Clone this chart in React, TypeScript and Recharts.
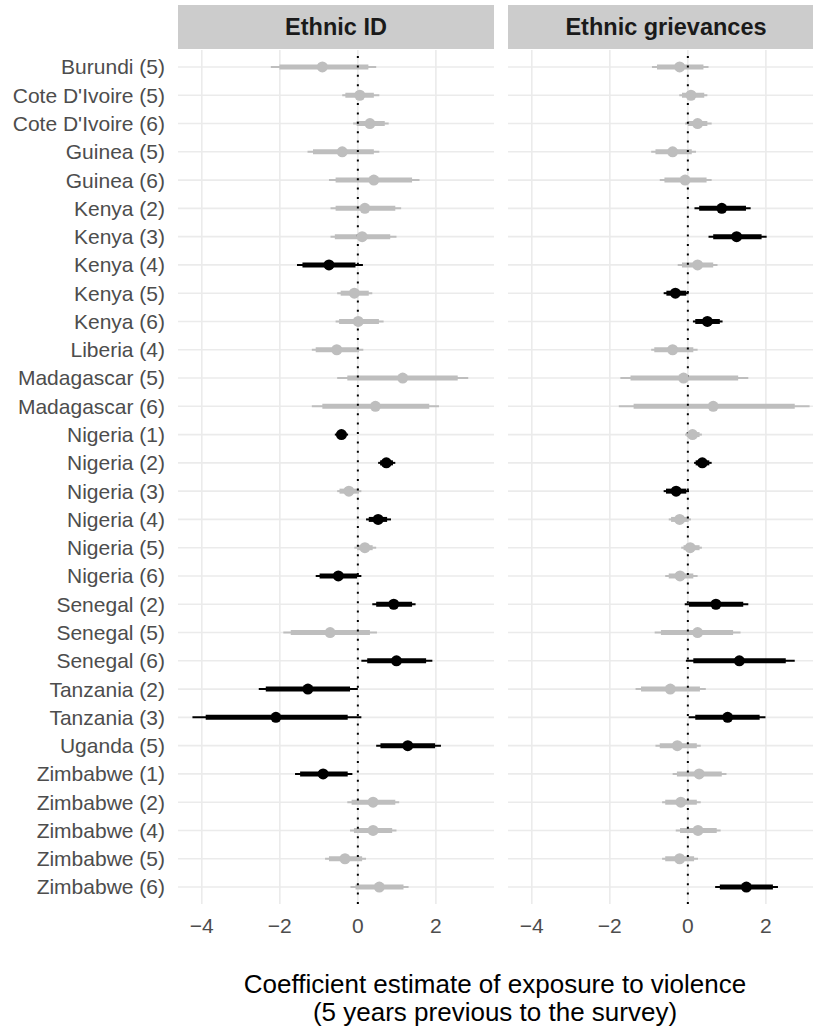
import React from 'react';
import {
  ScatterChart,
  Scatter,
  XAxis,
  YAxis,
  CartesianGrid,
  ErrorBar,
  ReferenceLine,
} from 'recharts';

const FONT = '"Liberation Sans", Arial, Helvetica, sans-serif';
const GREY = '#BEBEBE';
const BLACK = '#000000';

const surveys = [
  'Burundi (5)', "Cote D'Ivoire (5)", "Cote D'Ivoire (6)", 'Guinea (5)', 'Guinea (6)',
  'Kenya (2)', 'Kenya (3)', 'Kenya (4)', 'Kenya (5)', 'Kenya (6)',
  'Liberia (4)', 'Madagascar (5)', 'Madagascar (6)',
  'Nigeria (1)', 'Nigeria (2)', 'Nigeria (3)', 'Nigeria (4)', 'Nigeria (5)', 'Nigeria (6)',
  'Senegal (2)', 'Senegal (5)', 'Senegal (6)', 'Tanzania (2)', 'Tanzania (3)', 'Uganda (5)',
  'Zimbabwe (1)', 'Zimbabwe (2)', 'Zimbabwe (4)', 'Zimbabwe (5)', 'Zimbabwe (6)',
];

const xTicks = [-4, -2, 0, 2];
const rowTicks = surveys.map((_, i) => i + 1);

// Ethnic ID
const idEst = [-0.91, 0.05, 0.31, -0.4, 0.41, 0.18, 0.11, -0.74, -0.09, 0.01, -0.54, 1.15, 0.45, -0.42, 0.73, -0.23, 0.52, 0.18, -0.5, 0.92, -0.71, 0.99, -1.28, -2.1, 1.28, -0.89, 0.39, 0.39, -0.33, 0.55];
const idLo95 = [-2.23, -0.4, -0.12, -1.29, -0.74, -0.7, -0.7, -1.56, -0.53, -0.57, -1.18, -0.53, -1.18, -0.59, 0.52, -0.53, 0.21, -0.09, -1.08, 0.37, -1.91, 0.09, -2.54, -4.24, 0.47, -1.61, -0.27, -0.2, -0.84, -0.19];
const idHi95 = [0.47, 0.55, 0.79, 0.55, 1.58, 1.11, 0.99, 0.13, 0.37, 0.66, 0.14, 2.83, 2.08, -0.25, 0.96, 0.09, 0.85, 0.47, 0.09, 1.48, 0.49, 1.91, 0.0, 0.09, 2.13, -0.14, 1.06, 0.99, 0.21, 1.3];
const idLo90 = [-2.01, -0.32, -0.03, -1.15, -0.57, -0.57, -0.59, -1.42, -0.44, -0.48, -1.08, -0.27, -0.91, -0.54, 0.57, -0.47, 0.28, -0.02, -0.98, 0.47, -1.72, 0.24, -2.36, -3.9, 0.58, -1.48, -0.16, -0.1, -0.74, -0.06];
const idHi90 = [0.27, 0.41, 0.69, 0.41, 1.39, 0.96, 0.83, -0.06, 0.28, 0.54, 0.03, 2.56, 1.83, -0.3, 0.9, 0.03, 0.75, 0.38, -0.02, 1.39, 0.31, 1.75, -0.2, -0.26, 1.98, -0.26, 0.96, 0.88, 0.11, 1.17];
const idSig = [0, 0, 0, 0, 0, 0, 0, 1, 0, 0, 0, 0, 0, 1, 1, 0, 1, 0, 1, 1, 0, 1, 1, 1, 1, 1, 0, 0, 0, 0];

// Ethnic grievances
const grEst = [-0.21, 0.08, 0.25, -0.39, -0.07, 0.87, 1.25, 0.25, -0.32, 0.5, -0.39, -0.11, 0.65, 0.12, 0.37, -0.3, -0.21, 0.06, -0.2, 0.72, 0.25, 1.32, -0.45, 1.02, -0.27, 0.29, -0.18, 0.26, -0.21, 1.5];
const grLo95 = [-0.92, -0.22, -0.07, -0.94, -0.72, 0.17, 0.53, -0.26, -0.62, 0.13, -0.94, -1.73, -1.77, -0.07, 0.16, -0.62, -0.49, -0.17, -0.58, -0.08, -0.85, -0.05, -1.34, 0.02, -0.83, -0.39, -0.66, -0.31, -0.66, 0.7];
const grHi95 = [0.53, 0.5, 0.61, 0.21, 0.61, 1.61, 2.02, 0.76, 0.02, 0.89, 0.25, 1.55, 3.12, 0.36, 0.61, 0.03, 0.08, 0.36, 0.25, 1.55, 1.35, 2.74, 0.46, 1.99, 0.33, 0.99, 0.33, 0.84, 0.26, 2.31];
const grLo90 = [-0.79, -0.15, 0.0, -0.83, -0.6, 0.29, 0.65, -0.15, -0.55, 0.19, -0.86, -1.47, -1.39, -0.03, 0.2, -0.56, -0.43, -0.11, -0.49, 0.03, -0.69, 0.14, -1.2, 0.19, -0.72, -0.28, -0.58, -0.2, -0.58, 0.82];
const grHi90 = [0.4, 0.42, 0.5, 0.1, 0.48, 1.49, 1.89, 0.65, -0.04, 0.82, 0.14, 1.29, 2.74, 0.3, 0.55, -0.04, 0.02, 0.3, 0.14, 1.42, 1.16, 2.51, 0.31, 1.84, 0.23, 0.87, 0.23, 0.74, 0.16, 2.18];
const grSig = [0, 0, 0, 0, 0, 1, 1, 0, 1, 1, 0, 0, 0, 0, 1, 1, 0, 0, 0, 1, 0, 1, 0, 1, 0, 0, 0, 0, 0, 1];

type Series = {
  est: number[];
  lo95: number[];
  hi95: number[];
  lo90: number[];
  hi90: number[];
  sig: number[];
};

// error bars take offsets from the estimate, [below, above]
const toPoints = (s: Series, significant: boolean) =>
  s.est
    .map((e, i) => ({
      row: i + 1,
      est: e,
      e95: [e - s.lo95[i], s.hi95[i] - e],
      e90: [e - s.lo90[i], s.hi90[i] - e],
      sig: s.sig[i] === 1,
    }))
    .filter((p) => p.sig === significant);

const dot = (fill: string) => (props: any) =>
  <circle cx={props.cx} cy={props.cy} r={5.5} fill={fill} />;

// grid only at the major ticks, placed through the axis scales
const vGrid = ({ xAxis, offset }: any) =>
  xAxis && typeof xAxis.scale === 'function'
    ? xTicks.map((t) => xAxis.scale(t))
    : xTicks.map((t) => offset.left + ((t + 4.61) / 8.1) * offset.width);
const hGrid = ({ yAxis, offset }: any) =>
  yAxis && typeof yAxis.scale === 'function'
    ? rowTicks.map((t) => yAxis.scale(t))
    : rowTicks.map((t) => offset.top + ((t - 0.4) / 30.2) * offset.height);

const tickStyle = { fill: '#4D4D4D', fontSize: 21, fontFamily: FONT };

interface PanelProps {
  title: string;
  series: Series;
  left: number;
  showLabels: boolean;
}

const Panel: React.FC<PanelProps> = ({ title, series, left, showLabels }) => {
  const axisW = showLabels ? 178 : 0;
  const grey = toPoints(series, false);
  const black = toPoints(series, true);
  return (
    <>
      <div
        style={{
          position: 'absolute',
          left: left + axisW,
          top: 5,
          width: 316,
          height: 44,
          background: '#CCCCCC',
          color: '#1A1A1A',
          fontWeight: 'bold',
          fontSize: 23.5,
          lineHeight: '45px',
          textAlign: 'center',
        }}
      >
        {title}
      </div>
      <div style={{ position: 'absolute', left, top: 0 }}>
        <ScatterChart
          width={axisW + 316}
          height={944}
          margin={{ top: 50, right: 0, bottom: 0, left: 0 }}
        >
          <CartesianGrid
            stroke="#EBEBEB"
            strokeWidth={1.6}
            verticalCoordinatesGenerator={vGrid}
            horizontalCoordinatesGenerator={hGrid}
          />
          <XAxis
            type="number"
            dataKey="est"
            domain={[-4.61, 3.49]}
            ticks={xTicks}
            tickFormatter={(v: number) => (v < 0 ? `\u2212${Math.abs(v)}` : `${v}`)}
            axisLine={false}
            tickLine={false}
            tickSize={0}
            tickMargin={14}
            height={40}
            tick={tickStyle}
            allowDataOverflow
          />
          <YAxis
            type="number"
            dataKey="row"
            domain={[0.4, 30.6]}
            reversed
            ticks={rowTicks}
            interval={0}
            tickFormatter={(v: number) => (showLabels ? surveys[v - 1] : '')}
            axisLine={false}
            tickLine={false}
            tickSize={0}
            tickMargin={13}
            width={axisW}
            tick={showLabels ? tickStyle : false}
            allowDataOverflow
          />
          <Scatter data={grey} shape={dot(GREY)} isAnimationActive={false}>
            <ErrorBar dataKey="e95" direction="x" width={0} stroke={GREY} strokeWidth={2} isAnimationActive={false} />
            <ErrorBar dataKey="e90" direction="x" width={0} stroke={GREY} strokeWidth={5} isAnimationActive={false} />
          </Scatter>
          <Scatter data={black} shape={dot(BLACK)} isAnimationActive={false}>
            <ErrorBar dataKey="e95" direction="x" width={0} stroke={BLACK} strokeWidth={2} isAnimationActive={false} />
            <ErrorBar dataKey="e90" direction="x" width={0} stroke={BLACK} strokeWidth={5} isAnimationActive={false} />
          </Scatter>
          <ReferenceLine x={0} stroke={BLACK} strokeWidth={2} strokeDasharray="2 7.4" />
        </ScatterChart>
      </div>
    </>
  );
};

export default function App() {
  return (
    <div
      style={{
        position: 'absolute',
        left: 0,
        top: 0,
        width: 813,
        height: 1029,
        overflow: 'hidden',
        background: '#FFFFFF',
        fontFamily: FONT,
      }}
    >
      <Panel
        title="Ethnic ID"
        series={{ est: idEst, lo95: idLo95, hi95: idHi95, lo90: idLo90, hi90: idHi90, sig: idSig }}
        left={0}
        showLabels
      />
      <Panel
        title="Ethnic grievances"
        series={{ est: grEst, lo95: grLo95, hi95: grHi95, lo90: grLo90, hi90: grHi90, sig: grSig }}
        left={508}
        showLabels={false}
      />
      <div
        style={{
          position: 'absolute',
          left: 195,
          top: 970,
          width: 600,
          textAlign: 'center',
          fontSize: 26,
          lineHeight: '28px',
          color: '#000000',
        }}
      >
        Coefficient estimate of exposure to violence
        <br />
        (5 years previous to the survey)
      </div>
    </div>
  );
}
